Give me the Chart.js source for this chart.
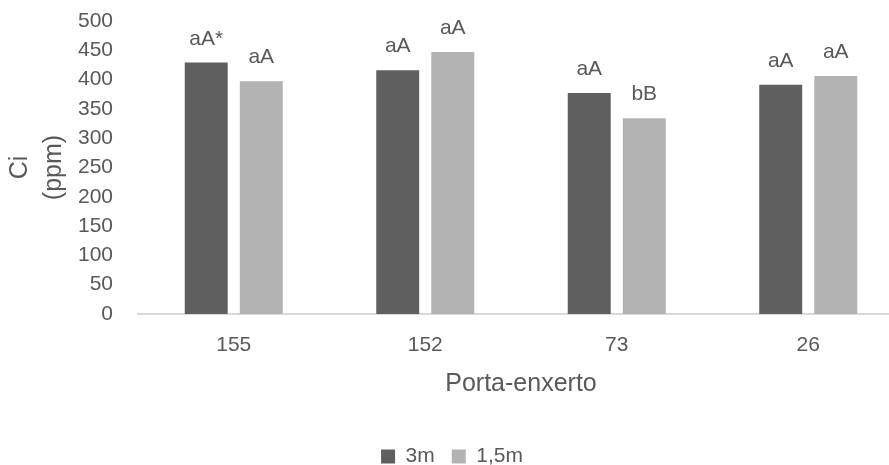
<!DOCTYPE html>
<html>
<head>
<meta charset="utf-8">
<script src="https://cdn.jsdelivr.net/npm/chart.js@4/dist/chart.umd.min.js"></script>
<style>
  html, body { margin: 0; padding: 0; background: #ffffff; overflow: hidden; }
  #wrap { width: 905px; height: 465px; position: relative; }
</style>
</head>
<body>
<div id="wrap"><canvas id="c" width="905" height="465"></canvas></div>
<script>
const categories = ["155", "152", "73", "26"];
const series3m = [429, 416, 377, 391];
const series15m = [397, 447, 334, 406];
const labels3m = ["aA*", "aA", "aA", "aA"];
const labels15m = ["aA", "aA", "bB", "aA"];
const seriesNames = ["3m", "1,5m"];
const yTitle = ["Ci", "(ppm)"];
const xTitle = "Porta-enxerto";

const FONT = "'Liberation Sans', Arial, sans-serif";
const TEXT = "#595959";

const barLabels = {
  id: "barLabels",
  afterDatasetsDraw(chart) {
    const ctx = chart.ctx;
    const all = [labels3m, labels15m];
    ctx.save();
    ctx.font = "21px " + FONT;
    ctx.fillStyle = TEXT;
    ctx.textAlign = "center";
    ctx.textBaseline = "alphabetic";
    chart.data.datasets.forEach((ds, di) => {
      const meta = chart.getDatasetMeta(di);
      meta.data.forEach((bar, i) => {
        ctx.fillText(all[di][i], bar.x, bar.y - 18);
      });
    });
    ctx.restore();
  }
};

new Chart(document.getElementById("c"), {
  type: "bar",
  data: {
    labels: categories,
    datasets: [
      { label: seriesNames[0], data: series3m, backgroundColor: "#5f5f5f",
        categoryPercentage: 0.575, barPercentage: 0.78 },
      { label: seriesNames[1], data: series15m, backgroundColor: "#b3b3b3",
        categoryPercentage: 0.575, barPercentage: 0.78 }
    ]
  },
  options: {
    responsive: false,
    animation: false,
    layout: { padding: { top: 21, right: 1, bottom: -12, left: 0 } },
    plugins: {
      tooltip: { enabled: false },
      legend: {
        position: "bottom",
        labels: {
          color: TEXT,
          font: { family: FONT, size: 21 },
          boxWidth: 14,
          boxHeight: 14,
          padding: 17
        }
      }
    },
    scales: {
      x: {
        grid: { display: true, drawOnChartArea: false, drawTicks: false, color: "rgba(0,0,0,0)" },
        border: { display: true, color: "#d9d9d9", width: 2 },
        ticks: { color: TEXT, font: { family: FONT, size: 21 }, padding: 18.4 },
        title: { display: true, text: xTitle, color: TEXT,
                 font: { family: FONT, size: 25 }, padding: { top: 0, bottom: 30 } },
        afterFit(scale) { scale.height = 115; }
      },
      y: {
        min: 0, max: 500,
        grid: { display: false, drawTicks: false },
        border: { display: false },
        ticks: { stepSize: 50, autoSkip: false, color: TEXT, font: { family: FONT, size: 21 }, padding: 25 },
        title: { display: true, text: yTitle, color: TEXT,
                 font: { family: FONT, size: 25, lineHeight: 1.35 }, padding: { top: 3, bottom: 0 } },
        afterFit(scale) { scale.width = 138; scale.paddingTop = 0; scale.paddingBottom = 0; }
      }
    }
  },
  plugins: [barLabels]
});
</script>
</body>
</html>
